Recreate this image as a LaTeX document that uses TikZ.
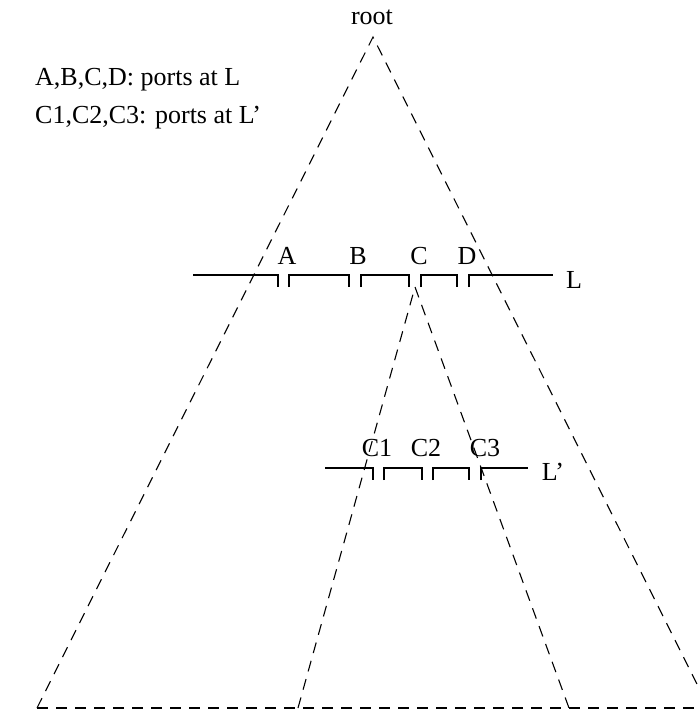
\documentclass[tikz,border=0pt]{standalone}
\usepackage{fontspec}
\setmainfont{Liberation Serif}
\begin{document}
\begin{tikzpicture}[x=1pt, y=-1pt,
  lab/.style={font=\fontsize{26}{30}\selectfont, inner sep=0pt, anchor=base},
  cone/.style={dash pattern=on 11pt off 8pt, line width=1.1pt},
  port/.style={line width=1.9pt}]
\useasboundingbox (0,0) rectangle (697,710);
% ---------- the two cones ----------
\coordinate (top) at (373,37);
\coordinate (botL) at (37,708);
\coordinate (botR) at (709,708);
\coordinate (sub) at (415,287);
\coordinate (subL) at (298,708);
\coordinate (subR) at (569,708);
\draw[cone] (botL) -- (top) -- (botR);
\draw[cone] (botL) -- (botR);
\draw[cone] (subL) -- (sub) -- (subR);
\node[lab] (root) at (372,24) {root};
% ---------- level L ----------
\draw[port] (193,275) -- (278,275) -- (278,287);
\foreach \a/\b in {289/349, 361/409, 421/457} {
  \draw[port] (\a,287) -- (\a,275) -- (\b,275) -- (\b,287);
}
\draw[port] (469,287) -- (469,275) -- (553,275);
\foreach \x/\n in {287/A, 358/B, 419/C, 467/D} {
  \node[lab] (\n) at (\x,264) {\n};
}
\node[lab] (L) at (574,288) {L};
% ---------- level L' ----------
\draw[port] (325,468) -- (373,468) -- (373,480);
\foreach \a/\b in {384/422, 433/469} {
  \draw[port] (\a,480) -- (\a,468) -- (\b,468) -- (\b,480);
}
\draw[port] (481,480) -- (481,468) -- (528,468);
\foreach \x/\n in {377/C1, 426/C2, 485/C3} {
  \node[lab] (\n) at (\x,456) {\n};
}
\node[lab] (Lp) at (553,480) {L'};
% ---------- legend ----------
\node[lab, anchor=base west] (keyL) at (35,85) {A,B,C,D: ports at L};
\node[lab, anchor=base west] (keyLp) at (35,123) {C1,C2,C3: ports at L'};
\end{tikzpicture}
\end{document}
